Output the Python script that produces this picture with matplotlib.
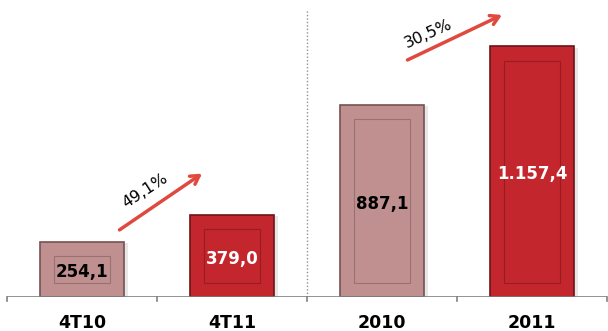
import numpy as np
import matplotlib.pyplot as plt
from matplotlib.patches import Rectangle

categories = ['4T10', '4T11', '2010', '2011']
values = [254.1, 379.0, 887.1, 1157.4]
value_labels = ['254,1', '379,0', '887,1', '1.157,4']
growth_labels = ['49,1%', '30,5%']

pink = '#c09090'
pink_edge = '#765252'
red = '#c4262d'
red_edge = '#6a1518'
face = [pink, red, pink, red]
edge = [pink_edge, red_edge, pink_edge, red_edge]
txt_col = ['black', 'white', 'black', 'white']

fig = plt.figure(figsize=(6.08, 3.31), dpi=100)
ax = fig.add_axes([7/608, 34/331, 600/608, 297/331])
ax.set_xlim(-0.5, 3.5)
ax.set_ylim(0, 1372)

x = np.arange(len(categories))
w = 0.56
bars = ax.bar(x, values, width=w, color=face, edgecolor=edge, linewidth=1.2, zorder=3)

# soft shadow + inner frame
for b, ec in zip(bars, edge):
    bx, by, bw, bh = b.get_x(), b.get_y(), b.get_width(), b.get_height()
    ax.add_patch(Rectangle((bx + 0.025, by), bw, bh - 6, facecolor='#d8d8d8',
                           edgecolor='none', zorder=2, alpha=0.6))
    ix, iy = 0.093, 65
    ax.add_patch(Rectangle((bx + ix, by + iy), bw - 2 * ix, bh - 2 * iy, fill=False,
                           edgecolor=ec, linewidth=0.8, alpha=0.5, zorder=4))

for xi, v, lab, c in zip(x, values, value_labels, txt_col):
    ax.text(xi, v / 2 - 12, lab, ha='center', va='center', color=c,
            fontsize=12, fontweight='bold', zorder=5)

# axis line and ticks
ax.axhline(0, color='#808080', linewidth=1.2, zorder=4)
for t in np.arange(-0.5, 3.6, 1.0):
    ax.plot([t, t], [0, -18], color='#808080', linewidth=1.2, clip_on=False, zorder=4)
for xi, cat in zip(x, categories):
    ax.text(xi, -122, cat, ha='center', va='center', fontsize=12.5,
            fontweight='bold', color='black')

# separator
ax.plot([1.5, 1.5], [0, 1330], color='#909090', linestyle=(0, (1, 1.5)),
        linewidth=1.0, zorder=1)

# growth arrows
arrow_kw = dict(arrowstyle='->,head_length=0.6,head_width=0.35', color='#e04a3e',
                lw=2.5, shrinkA=0, shrinkB=0)
ax.annotate('', xy=(0.80, 570), xytext=(0.25, 310), arrowprops=arrow_kw)
ax.text(0.42, 490, growth_labels[0], rotation=33, ha='center', va='center', fontsize=11.5)
ax.annotate('', xy=(2.80, 1303), xytext=(2.17, 1095), arrowprops=arrow_kw)
ax.text(2.31, 1218, growth_labels[1], rotation=24, ha='center', va='center', fontsize=11.5)

ax.axis('off')
fig.savefig('out.png', dpi=100)
